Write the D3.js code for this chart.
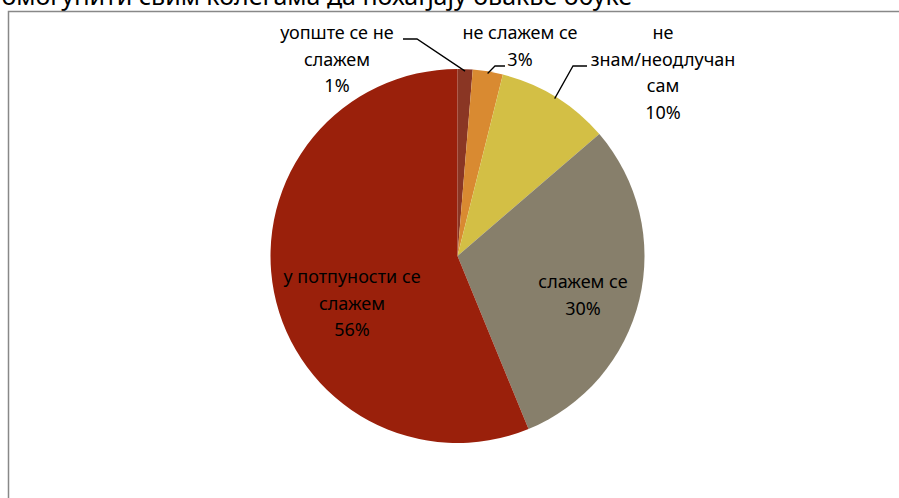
<!DOCTYPE html>
<html>
<head>
<meta charset="utf-8">
<script src="https://cdn.jsdelivr.net/npm/d3@7"></script>
<style>
  body { margin: 0; background: #fff; }
  text { font-family: "Noto Sans", "Open Sans", sans-serif; fill: #000; }
</style>
</head>
<body>
<svg id="chart" width="899" height="498"></svg>
<script>
// data
var titleText = "Треба омогућити свим колегама да похађају овакве обуке"
var categories = ["уопште се не слажем", "не слажем се", "не знам/неодлучан сам", "слажем се", "у потпуности се слажем"]
var values = [1.3, 2.6, 9.8, 30.1, 56.2]
var shown = ["1%", "3%", "10%", "30%", "56%"]
var labelLines = [
    ["уопште се не", "слажем", "1%"],
    ["не слажем се", "3%"],
    ["не", "знам/неодлучан", "сам", "10%"],
    ["слажем се", "30%"],
    ["у потпуности се", "слажем", "56%"]
]
var colors = ["#8a3624", "#d98a31", "#d3bf45", "#877f6b", "#9a200b"]

var svg = d3.select("#chart")
var cx = 457.5, cy = 256, radius = 187
var lineH = 26.5

// title, mostly cut off by the top edge
svg.append("text")
    .attr("x", 632).attr("y", 5)
    .attr("text-anchor", "end")
    .style("font-size", "25px")
    .text(titleText)

// frame
svg.append("path")
    .attr("d", "M8.5,498 V11.5 H899")
    .attr("fill", "none")
    .attr("stroke", "#888")
    .attr("stroke-width", 1.5)

var pie = d3.pie().sort(null).value(d => d)
var arcs = pie(values)
var arc = d3.arc().innerRadius(0).outerRadius(radius)

var g = svg.append("g").attr("transform", "translate(" + cx + "," + cy + ")")

g.selectAll("path.slice")
    .data(arcs)
    .enter().append("path")
    .attr("class", "slice")
    .attr("d", arc)
    .attr("fill", (d, i) => colors[i])

// label anchors (centre of first line) and leader lines
var labelPos = [[337, 33], [520, 33], [663, 33], [583, 282], [352, 277]]
var leaders = [
    [[403, 39], [417, 39]],
    [[505, 66], [495, 66]],
    [[587, 66], [573, 66]]
]

// leader end points sit on the arc edge of each small slice
leaders.forEach(function (pts, i) {
    var a = arcs[i]
    var mid = (a.startAngle + a.endAngle) / 2
    var r = radius - 2
    var end = [cx + r * Math.sin(mid), cy - r * Math.cos(mid)]
    svg.append("path")
        .attr("d", d3.line()([pts[0], pts[1], end]))
        .attr("fill", "none")
        .attr("stroke", "#000")
        .attr("stroke-width", 1.3)
})

labelLines.forEach(function (lines, i) {
    var t = svg.append("text")
        .attr("text-anchor", "middle")
        .style("font-size", "18px")
    lines.forEach(function (s, j) {
        t.append("tspan")
            .attr("x", labelPos[i][0])
            .attr("y", labelPos[i][1] + j * lineH)
            .attr("dy", "0.35em")
            .text(s)
    })
})
</script>
</body>
</html>
